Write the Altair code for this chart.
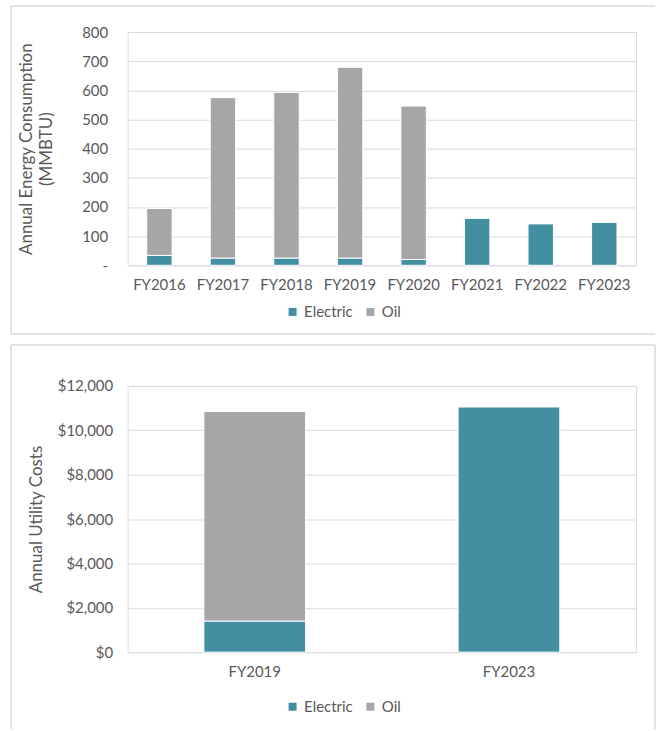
import altair as alt
import pandas as pd

# ---- data ----
energy_years = ["FY2016", "FY2017", "FY2018", "FY2019", "FY2020", "FY2021", "FY2022", "FY2023"]
energy_electric = [34, 25, 25, 25, 20, 161, 142, 147]
energy_oil = [161, 550, 568, 654, 526, 0, 0, 0]

cost_years = ["FY2019", "FY2023"]
cost_electric = [1400, 11050]
cost_oil = [9450, 0]

series = ["Electric", "Oil"]
colors = ["#428FA2", "#A6A6A9"]

def long_table(years, elec, oil):
    rows = []
    for y, e, o in zip(years, elec, oil):
        for s, v, k in (("Electric", e, 0), ("Oil", o, 1)):
            if v > 0:
                rows.append({"year": y, "series": s, "value": v, "ord": k})
    return pd.DataFrame(rows)

energy_df = long_table(energy_years, energy_electric, energy_oil)
cost_df = long_table(cost_years, cost_electric, cost_oil)

FONT = "Lato"
TXT = "#595959"
BORDER = "#D9D9D9"
one = pd.DataFrame({"k": [0]})


def rule(x1, x2, y1, y2):
    if x1 == x2:
        enc = dict(x=alt.value(x1), y=alt.value(y1), y2=alt.value(y2))
    else:
        enc = dict(x=alt.value(x1), x2=alt.value(x2), y=alt.value(y1))
    return alt.Chart(one).mark_rule(color=BORDER, strokeWidth=1.5).encode(**enc)


color_enc = lambda lx, ly: alt.Color(
    "series:N",
    scale=alt.Scale(domain=series, range=colors),
    legend=alt.Legend(
        title=None, orient="none", direction="horizontal",
        legendX=lx, legendY=ly, padding=0,
        symbolType="square", symbolSize=64, symbolStrokeWidth=0,
        labelFont=FONT, labelFontSize=15, labelColor=TXT, labelOffset=4,
        columnPadding=10,
    ),
)

# ---- top chart ----
top_bars = alt.Chart(energy_df).mark_bar(stroke="white", strokeWidth=1).encode(
    x=alt.X("year:N", sort=energy_years, title=None,
            scale=alt.Scale(paddingInner=0.6),
            axis=alt.Axis(labelAngle=0, labelFont=FONT, labelFontSize=15, labelColor=TXT,
                          ticks=False, domain=False, labelPadding=12, grid=False)),
    y=alt.Y("value:Q", stack="zero",
            scale=alt.Scale(domain=[0, 800], nice=False),
            title=["Annual Energy Consumption", "(MMBTU)"],
            axis=alt.Axis(values=list(range(0, 801, 100)),
                          labelExpr="datum.value == 0 ? '-' : format(datum.value, 'd')",
                          labelFont=FONT, labelFontSize=15, labelColor=TXT,
                          ticks=False, domain=False, labelPadding=20,
                          gridColor="#D9D9D9", gridWidth=1,
                          titleFont=FONT, titleFontSize=17, titleColor=TXT,
                          titleFontWeight="normal", titlePadding=26, titleLineHeight=20)),
    color=color_enc(158, 273),
    order=alt.Order("ord:Q"),
)

top = alt.layer(
    top_bars,
    rule(-117, 529, -26, -26),
    rule(-117, -117, -26, 303),
    rule(-117, 529, 303, 303),
).properties(width=510, height=234)

# ---- bottom chart ----
bot_bars = alt.Chart(cost_df).mark_bar(stroke="white", strokeWidth=1).encode(
    x=alt.X("year:N", sort=cost_years, title=None,
            scale=alt.Scale(paddingInner=0.6),
            axis=alt.Axis(labelAngle=0, labelFont=FONT, labelFontSize=15, labelColor=TXT,
                          ticks=False, domain=False, labelPadding=12, grid=False)),
    y=alt.Y("value:Q", stack="zero",
            scale=alt.Scale(domain=[0, 12000], nice=False),
            title="Annual Utility Costs",
            axis=alt.Axis(values=list(range(0, 12001, 2000)), format="$,.0f",
                          labelFont=FONT, labelFontSize=15, labelColor=TXT,
                          ticks=False, domain=False, labelPadding=15,
                          gridColor="#D9D9D9", gridWidth=1,
                          titleFont=FONT, titleFontSize=17, titleColor=TXT,
                          titleFontWeight="normal", titlePadding=12)),
    color=color_enc(158, 314),
    order=alt.Order("ord:Q"),
)

bottom = alt.layer(
    bot_bars,
    rule(-117, 529, -41, -41),
    rule(-117, -117, -41, 344),
    rule(529, 529, -41, 344),
).properties(width=510, height=267)

chart = alt.vconcat(top, bottom, spacing=7).resolve_scale(
    color="independent"
).resolve_legend(color="independent").properties(
    padding={"left": 9, "top": 3, "right": 0, "bottom": 0}
).configure_view(stroke=None).configure(background="white")

chart.save("out.html", embed_options={"renderer": "svg", "actions": False})
